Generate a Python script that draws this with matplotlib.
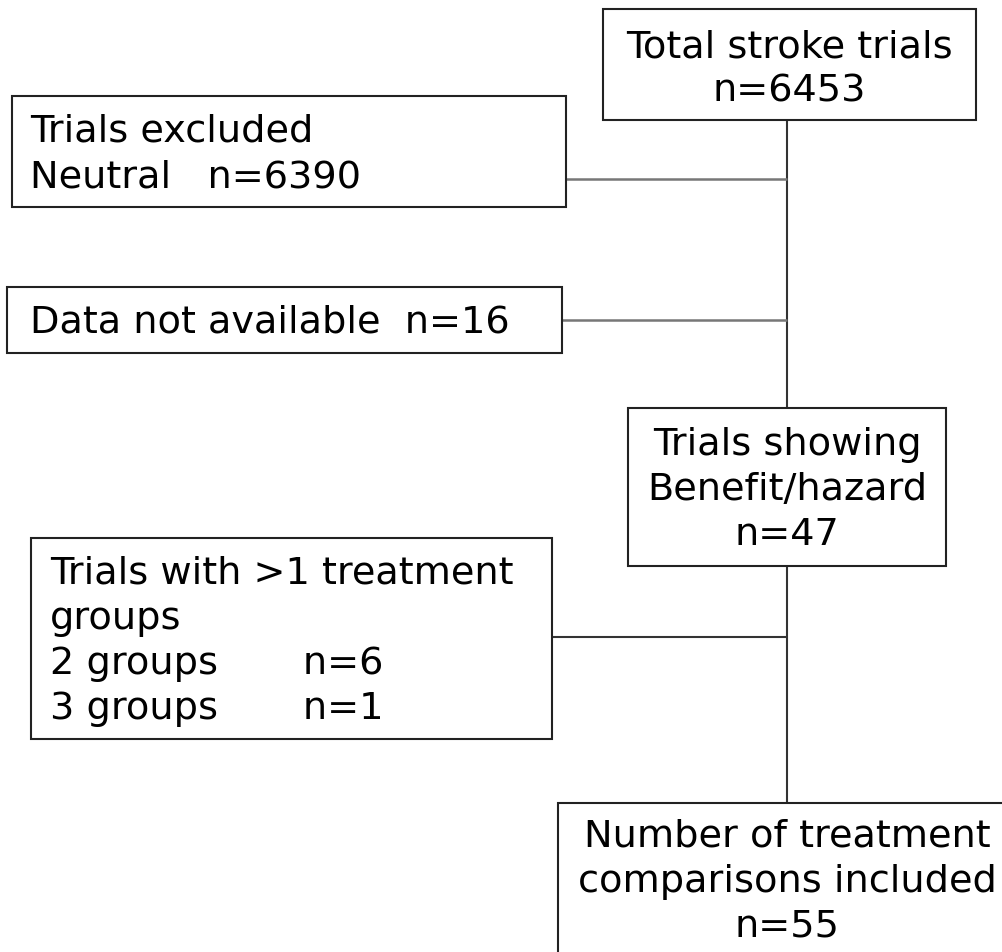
import matplotlib.pyplot as plt
from matplotlib.patches import Rectangle

# box texts (one string per line)
total_lines = ["Total stroke trials", "n=6453"]
excluded_lines = ["Trials excluded", "Neutral   n=6390"]
missing_lines = ["Data not available  n=16"]
benefit_lines = ["Trials showing", "Benefit/hazard", "n=47"]
groups_lines = ["Trials with >1 treatment", "groups", "2 groups       n=6", "3 groups       n=1"]
included_lines = ["Number of treatment", "comparisons included", "n=55"]

# layout in pixels: (left, top, right, bottom), text x, first baseline, alignment
boxes = [
    (total_lines, (603, 10, 976, 121), 789, 57, "center"),
    (excluded_lines, (12, 97, 566, 208), 30, 142, "left"),
    (missing_lines, (7, 288, 562, 354), 30, 333, "left"),
    (benefit_lines, (628, 409, 946, 567), 787, 455, "center"),
    (groups_lines, (31, 539, 552, 740), 50, 584, "left"),
    (included_lines, (558, 804, 1016, 1010), 787, 847, "center"),
]
line_step = 45
spine_x = 787

fig = plt.figure(figsize=(10.02, 9.53), dpi=100)
ax = fig.add_axes([0, 0, 1, 1])
ax.set_xlim(0, 1002)
ax.set_ylim(953, 0)
ax.axis("off")

# main vertical line and side connectors
ax.plot([spine_x, spine_x], [121, 409], color="#333333", lw=1.5, solid_capstyle="butt")
ax.plot([spine_x, spine_x], [567, 804], color="#333333", lw=1.5, solid_capstyle="butt")
ax.plot([566, spine_x], [180, 180], color="#777777", lw=1.8, solid_capstyle="butt")
ax.plot([562, spine_x], [321, 321], color="#777777", lw=1.8, solid_capstyle="butt")
ax.plot([552, spine_x], [638, 638], color="#333333", lw=1.5, solid_capstyle="butt")

for lines, (x0, y0, x1, y1), tx, ty, ha in boxes:
    ax.add_patch(Rectangle((x0, y0), x1 - x0, y1 - y0, facecolor="white",
                           edgecolor="#222222", lw=1.5, zorder=3))
    for i, s in enumerate(lines):
        ax.text(tx, ty + i * line_step, s, ha=ha, va="baseline",
                fontsize=27.5, family="DejaVu Sans", color="black", zorder=4)

fig.savefig("out.png", dpi=100, facecolor="white")
